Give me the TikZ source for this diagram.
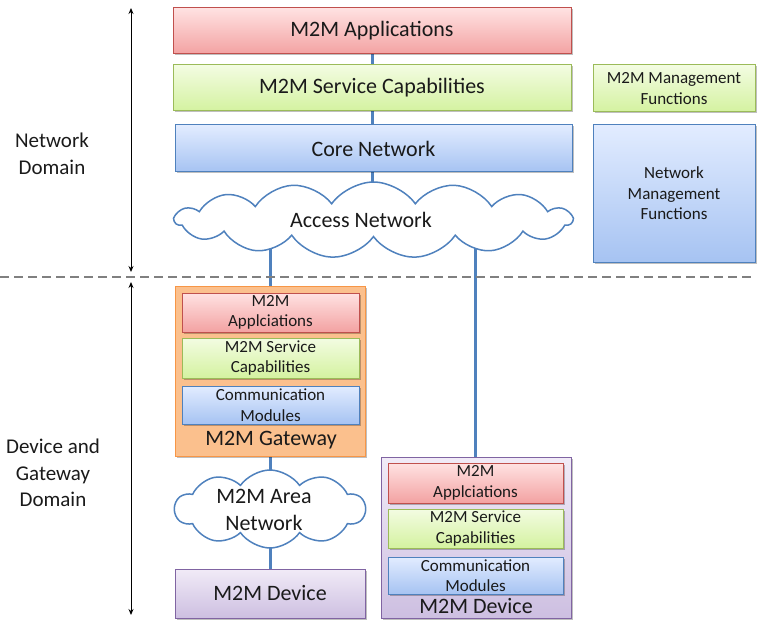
\documentclass[tikz,border=0pt]{standalone}
\usepackage{fontspec}
\setmainfont{Carlito}
\usetikzlibrary{shapes.symbols,shadows,backgrounds,arrows.meta}
\definecolor{redtop}{HTML}{FFE2E2}
\definecolor{redbot}{HTML}{F3A2A2}
\definecolor{redline}{HTML}{C0504D}
\definecolor{grntop}{HTML}{F3FCE2}
\definecolor{grnbot}{HTML}{D4F2A0}
\definecolor{grnline}{HTML}{9BBB59}
\definecolor{blutop}{HTML}{E2ECFF}
\definecolor{blubot}{HTML}{A6C3F2}
\definecolor{bluline}{HTML}{4F81BD}
\definecolor{orgfill}{HTML}{FBC08D}
\definecolor{orgline}{HTML}{F79646}
\definecolor{purtop}{HTML}{F1EBF7}
\definecolor{purbot}{HTML}{CDBFE1}
\definecolor{purline}{HTML}{8064A2}
\definecolor{txt}{HTML}{1A1A1A}
\tikzset{
  basebox/.style={rectangle, line width=1pt, inner sep=0pt, align=center, text=txt,
    drop shadow={shadow xshift=1.5pt, shadow yshift=-1.5pt, opacity=0.25, fill=black}},
  redbox/.style={basebox, draw=redline, top color=redtop, bottom color=redbot},
  grnbox/.style={basebox, draw=grnline, top color=grntop, bottom color=grnbot},
  blubox/.style={basebox, draw=bluline, top color=blutop, bottom color=blubot},
  orgbox/.style={basebox, draw=orgline, fill=orgfill},
  purbox/.style={basebox, draw=purline, top color=purtop, bottom color=purbot},
  big/.style={font=\fontsize{22}{27}\selectfont},
  small/.style={font=\fontsize{17}{20.5}\selectfont},
  netcloud/.style={cloud, draw=bluline, line width=1.5pt, fill=white, text=txt, inner sep=0pt, align=center},
  link/.style={draw=bluline, line width=3pt},
  domarrow/.style={{Stealth[length=6pt,width=5pt]}-{Stealth[length=6pt,width=5pt]}, line width=0.9pt, black},
  lbl/.style={text=txt, align=center, inner sep=0pt}
}
\begin{document}
\begin{tikzpicture}[x=1pt,y=-1pt]
\useasboundingbox (0,0) rectangle (768,631);
% network domain
\node[redbox, big, minimum width=398pt, minimum height=46pt] (app) at (372,31) {M2M Applications};
\node[grnbox, big, minimum width=398pt, minimum height=46pt] (svc) at (372,88) {M2M Service Capabilities};
\node[blubox, big, minimum width=397pt, minimum height=47pt] (core) at (373.5,148.5) {Core Network};
\node[netcloud, cloud puffs=15, cloud puff arc=110, aspect=5.2, minimum width=397pt, minimum height=76pt] (access) at (373.5,220) {};
\node[lbl, big] (accesslbl) at (361,220) {Access Network};
\node[grnbox, small, minimum width=162pt, minimum height=47pt] (mmf) at (674,88.5) {M2M Management\\Functions};
\node[blubox, small, minimum width=162pt, minimum height=137pt] (nmf) at (674,193.5) {Network\\Management\\Functions};
% domain separator
\coordinate (sepL) at (0,277);
\coordinate (sepR) at (755,277);
\draw[gray, line width=1.8pt, dash pattern=on 9pt off 5pt] (sepL) -- (sepR);
\coordinate (a1) at (131,8);
\coordinate (a2) at (131,272);
\coordinate (a3) at (131,282);
\coordinate (a4) at (131,615);
\draw[domarrow] (a1) -- (a2);
\draw[domarrow] (a3) -- (a4);
\node[lbl, font=\fontsize{21}{26.5}\selectfont] (nd) at (52,154) {Network\\Domain};
\node[lbl, font=\fontsize{21}{26.5}\selectfont] (dgd) at (53,473) {Device and\\Gateway\\Domain};
% gateway
\node[orgbox, minimum width=190pt, minimum height=170pt] (gw) at (270,371) {};
\node[redbox, small, minimum width=177pt, minimum height=39pt] (gwa) at (270.5,312.5) {M2M\\Applciations};
\node[grnbox, small, minimum width=177pt, minimum height=40pt] (gws) at (270.5,358) {M2M Service\\Capabilities};
\node[blubox, small, minimum width=177pt, minimum height=38pt] (gwc) at (270.5,405) {Communication\\Modules};
\node[lbl, big] (gwl) at (271,440) {M2M Gateway};
% area network
\node[netcloud, cloud puffs=10, cloud puff arc=110, aspect=2.4, minimum width=190pt, minimum height=78pt] (area) at (270,509) {};
\node[lbl, big] (arealbl) at (264,510) {M2M Area\\Network};
\node[purbox, big, minimum width=190pt, minimum height=49pt] (dev1) at (270,593.5) {M2M Device};
% device 2
\node[purbox, minimum width=190pt, minimum height=161pt] (dev2) at (476,537.5) {};
\node[redbox, small, minimum width=175pt, minimum height=40pt] (d2a) at (475.5,483) {M2M\\Applciations};
\node[grnbox, small, minimum width=175pt, minimum height=39pt] (d2s) at (475.5,528.5) {M2M Service\\Capabilities};
\node[blubox, small, minimum width=175pt, minimum height=37pt] (d2c) at (475.5,575.5) {Communication\\Modules};
\node[lbl, big] (d2l) at (476,606) {M2M Device};
% connectors
\begin{scope}[on background layer]
\draw[link] (app.south -| 372,0) -- (svc.north -| 372,0);
\draw[link] (svc.south -| 372,0) -- (core.north -| 372,0);
\draw[link] (core.south -| 372,0) -- (access.center -| 372,0);
\draw[link] (gw.north |- access.center) -- (gw.north);
\draw[link] (gw.south) -- (area.center);
\draw[link] (area.center) -- (dev1.north);
\draw[link] ([xshift=-1pt]dev2.north |- access.center) -- ([xshift=-1pt]dev2.north);
\end{scope}
\end{tikzpicture}
\end{document}
